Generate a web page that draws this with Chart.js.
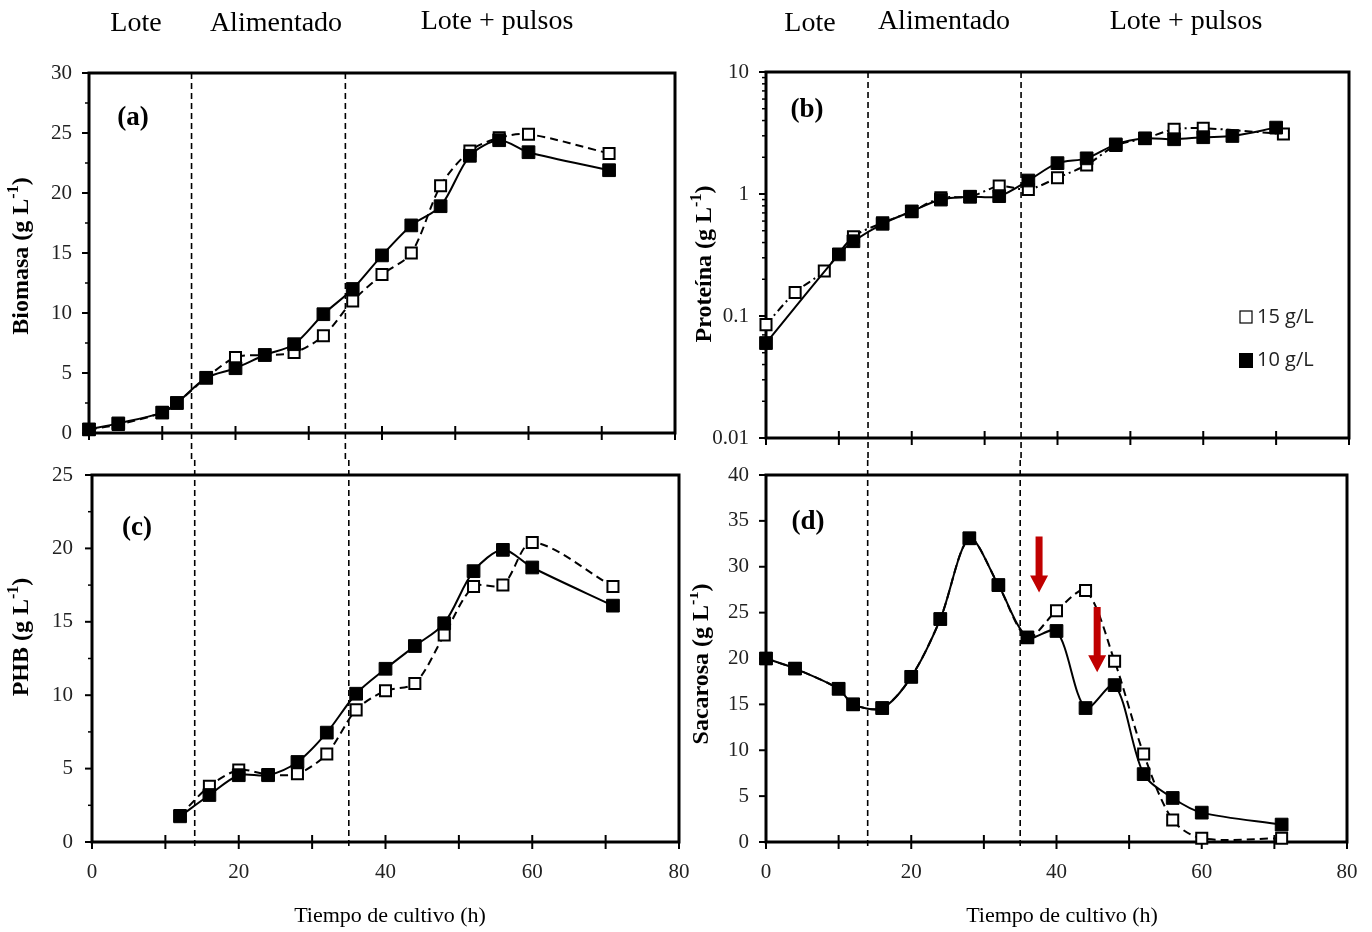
<!DOCTYPE html>
<html>
<head>
<meta charset="utf-8">
<title>Cultivo</title>
<script src="https://cdn.jsdelivr.net/npm/chart.js@4.4.1/dist/chart.umd.min.js"></script>
<style>
  body { margin: 0; background: #fff; }
  #wrap { position: relative; width: 1372px; height: 932px; overflow: hidden; }
  canvas { position: absolute; }
</style>
</head>
<body>
<div id="wrap">
  <canvas id="panelA" width="690" height="460" style="left:0;top:0;width:690px;height:460px"></canvas>
  <canvas id="panelB" width="682" height="460" style="left:690px;top:0;width:682px;height:460px"></canvas>
  <canvas id="panelC" width="690" height="472" style="left:0;top:460px;width:690px;height:472px"></canvas>
  <canvas id="panelD" width="682" height="472" style="left:690px;top:460px;width:682px;height:472px"></canvas>
</div>
<script>
// sampling times (h)
const tiempo = [0, 4, 10, 12, 16, 20, 24, 28, 32, 36, 40, 44, 48, 52, 56, 60, 71];

// (a) biomass, g/L
const biomasa10 = [0.3, 0.8, 1.7, 2.5, 4.6, 5.4, 6.5, 7.4, 9.9, 12.0, 14.8, 17.3, 18.9, 23.1, 24.4, 23.4, 21.9];
const biomasa15 = [0.3, 0.7, 1.7, 2.5, 4.6, 6.3, 6.5, 6.7, 8.1, 11.0, 13.2, 15.0, 20.6, 23.5, 24.6, 24.9, 23.3];

// (b) protein, g/L (log axis)
const tiempoProt10 = [0, 10, 12, 16, 20, 24, 28, 32, 36, 40, 44, 48, 52, 56, 60, 64, 70];
const proteina10 = [0.06, 0.32, 0.41, 0.57, 0.72, 0.9, 0.95, 0.96, 1.29, 1.79, 1.96, 2.55, 2.86, 2.81, 2.92, 2.99, 3.5];
const tiempoProt15 = [0, 4, 8, 12, 16, 20, 24, 28, 32, 36, 40, 44, 48, 52, 56, 60, 71];
const proteina15 = [0.085, 0.156, 0.234, 0.447, 0.58, 0.72, 0.93, 0.95, 1.16, 1.09, 1.36, 1.73, 2.5, 2.85, 3.39, 3.46, 3.1];
const ticksProteina = [0.01, 0.1, 1, 10];

// (c) PHB, g/L
const tiempoPHB = [12, 16, 20, 24, 28, 32, 36, 40, 44, 48, 52, 56, 60, 71];
const phb10 = [1.75, 3.2, 4.55, 4.55, 5.45, 7.45, 10.1, 11.8, 13.35, 14.9, 18.45, 19.9, 18.7, 16.1];
const phb15 = [1.8, 3.8, 4.9, 4.6, 4.65, 6.0, 9.0, 10.3, 10.8, 14.1, 17.4, 17.5, 20.4, 17.4];

// (d) sucrose, g/L
const sacarosa10 = [20.0, 18.9, 16.7, 15.0, 14.6, 18.0, 24.3, 33.1, 28.0, 22.3, 23.0, 14.6, 17.1, 7.4, 4.8, 3.2, 1.9];
const sacarosa15 = [20.0, 18.9, 16.7, 15.0, 14.6, 18.0, 24.3, 33.1, 28.0, 22.3, 25.2, 27.4, 19.7, 9.6, 2.4, 0.4, 0.4];

// sucrose pulses: time and arrow extent on the y axis
const pulsoTiempo = [37.6, 45.6];
const pulsoDesde = [33.3, 25.6];
const pulsoHasta = [27.2, 18.5];

// phase changes (h) and phase names
const cambiosFase = [14, 35];
const fases = ['Lote', 'Alimentado', 'Lote + pulsos'];
const leyenda = ['15 g/L', '10 g/L'];

const SERIF = '"Liberation Serif", "Times New Roman", serif';
const fuenteTicks = { family: SERIF, size: 21 };

const pts = (xs, ys) => xs.map((x, i) => ({ x: x, y: ys[i] }));

function serie10(data, order) {
  return {
    label: leyenda[1], data: data, order: order,
    borderColor: '#000', borderWidth: 2, tension: 0.3, clip: false,
    pointStyle: 'rect', pointRadius: 9, pointBackgroundColor: '#000',
    pointBorderColor: '#000', pointBorderWidth: 1
  };
}

function serie15(data, order, dash) {
  return {
    label: leyenda[0], data: data, order: order,
    borderColor: '#000', borderWidth: 2, borderDash: dash, tension: 0.3, clip: false,
    pointStyle: 'rect', pointRadius: 7.8, pointBackgroundColor: '#fff',
    pointBorderColor: '#000', pointBorderWidth: 2
  };
}

// box, tick marks and phase lines
const marco = {
  id: 'marco',
  beforeDatasetsDraw(chart, args, opts) {
    const { ctx, chartArea: a, scales: { x, y } } = chart;
    ctx.save();
    ctx.strokeStyle = '#000';

    ctx.lineWidth = 1.6;
    ctx.setLineDash([6, 4]);
    cambiosFase.forEach(t => {
      const px = x.getPixelForValue(t);
      ctx.beginPath();
      ctx.moveTo(px, opts.arriba ? a.top : 0);
      ctx.lineTo(px, opts.arriba ? chart.height : a.bottom + 4);
      ctx.stroke();
    });
    ctx.setLineDash([]);

    ctx.lineWidth = 2;
    for (let t = 0; t <= 80; t += 10) {
      const px = x.getPixelForValue(t);
      ctx.beginPath();
      ctx.moveTo(px, a.bottom - 7);
      ctx.lineTo(px, a.bottom + 7);
      ctx.stroke();
    }
    y.ticks.forEach(tk => {
      const py = y.getPixelForValue(tk.value);
      ctx.beginPath();
      ctx.moveTo(a.left - 7, py);
      ctx.lineTo(a.left, py);
      ctx.stroke();
    });
    const menores = [];
    if (opts.log) {
      for (let d = 0.01; d < 10; d *= 10) {
        for (let k = 2; k <= 9; k++) menores.push(d * k);
      }
    } else if (opts.paso) {
      for (let v = opts.paso; v < y.max; v += 2 * opts.paso) menores.push(v);
    }
    ctx.lineWidth = 1.5;
    menores.forEach(v => {
      const py = y.getPixelForValue(v);
      ctx.beginPath();
      ctx.moveTo(a.left - 4, py);
      ctx.lineTo(a.left, py);
      ctx.stroke();
    });

    ctx.lineWidth = 3;
    ctx.strokeRect(a.left, a.top, a.right - a.left, a.bottom - a.top);
    ctx.restore();
  }
};

// red arrows marking the sucrose pulses
const flechas = {
  id: 'flechas',
  afterDatasetsDraw(chart) {
    const { ctx, scales: { x, y } } = chart;
    ctx.save();
    ctx.fillStyle = '#c00000';
    pulsoTiempo.forEach((t, i) => {
      const px = x.getPixelForValue(t);
      const y1 = y.getPixelForValue(pulsoDesde[i]);
      const y2 = y.getPixelForValue(pulsoHasta[i]);
      const hl = 17, sw = 3.5, hw = 9;
      ctx.beginPath();
      ctx.moveTo(px - sw, y1);
      ctx.lineTo(px + sw, y1);
      ctx.lineTo(px + sw, y2 - hl);
      ctx.lineTo(px + hw, y2 - hl);
      ctx.lineTo(px, y2);
      ctx.lineTo(px - hw, y2 - hl);
      ctx.lineTo(px - sw, y2 - hl);
      ctx.closePath();
      ctx.fill();
    });
    ctx.restore();
  }
};

// title with a superscript part, drawn centred at (cx, cy)
function tituloSup(ctx, cx, cy, base, sup, cola, size, rotar) {
  ctx.save();
  ctx.translate(cx, cy);
  if (rotar) ctx.rotate(-Math.PI / 2);
  const fb = 'bold ' + size + 'px ' + SERIF;
  const fs = 'bold ' + Math.round(size * 0.65) + 'px ' + SERIF;
  ctx.font = fb; const w1 = ctx.measureText(base).width; const w3 = ctx.measureText(cola).width;
  ctx.font = fs; const w2 = ctx.measureText(sup).width;
  let x0 = -(w1 + w2 + w3) / 2;
  ctx.fillStyle = '#000';
  ctx.textBaseline = 'middle';
  ctx.textAlign = 'left';
  ctx.font = fb; ctx.fillText(base, x0, 0);
  ctx.font = fs; ctx.fillText(sup, x0 + w1, -size * 0.35);
  ctx.font = fb; ctx.fillText(cola, x0 + w1 + w2, 0);
  ctx.restore();
}

const rotulos = {
  id: 'rotulos',
  afterDraw(chart, args, o) {
    const ctx = chart.ctx;
    ctx.save();
    ctx.fillStyle = '#000';
    ctx.textAlign = 'center';
    ctx.textBaseline = 'middle';
    if (o.fases) {
      ctx.font = '28px ' + SERIF;
      o.fases.forEach((p, i) => ctx.fillText(fases[i], p[0], p[1]));
    }
    ctx.font = 'bold 27px ' + SERIF;
    ctx.fillText(o.letra[0], o.letra[1], o.letra[2]);
    tituloSup(ctx, o.yTitulo[1], o.yTitulo[2], o.yTitulo[0] + ' (g L', '-1', ')', 24, true);
    if (o.xTitulo) {
      ctx.font = '22px ' + SERIF;
      ctx.fillText('Tiempo de cultivo (h)', o.xTitulo[0], o.xTitulo[1]);
    }
    if (o.leyenda) {
      const [lx, ly] = o.leyenda;
      ctx.font = '20px "Open Sans", sans-serif';
      ctx.textAlign = 'left';
      ctx.lineWidth = 1.2;
      ctx.strokeStyle = '#000';
      ctx.fillStyle = '#fff';
      ctx.fillRect(lx - 6, ly - 6, 12, 12);
      ctx.strokeRect(lx - 6, ly - 6, 12, 12);
      ctx.fillStyle = '#000';
      ctx.fillRect(lx - 7, ly + 36, 14, 15);
      ctx.fillStyle = '#222';
      ctx.fillText(leyenda[0], lx + 11, ly);
      ctx.fillText(leyenda[1], lx + 11, ly + 43);
    }
    ctx.restore();
  }
};

function opciones(c) {
  return {
    responsive: false,
    animation: false,
    events: [],
    layout: { padding: c.padding },
    plugins: {
      legend: { display: false },
      tooltip: { enabled: false },
      marco: { arriba: c.arriba, log: c.log, paso: c.paso },
      rotulos: c.rotulos
    },
    scales: {
      x: {
        type: 'linear', min: 0, max: 80,
        // fixed axis box, no extra room for edge labels
        afterFit: s => { s.height = c.altoX; s.paddingLeft = 0; s.paddingRight = 0; },
        grid: { display: false, drawTicks: false },
        border: { display: false },
        ticks: { display: !c.arriba, stepSize: 20, padding: 18, font: fuenteTicks, color: '#222' }
      },
      y: Object.assign({
        afterFit: s => { s.width = c.anchoY; s.paddingTop = 0; s.paddingBottom = 0; },
        grid: { display: false, drawTicks: false },
        border: { display: false },
        ticks: { padding: 17, font: fuenteTicks, color: '#222' }
      }, c.y)
    }
  };
}

new Chart(document.getElementById('panelA'), {
  type: 'line',
  data: { datasets: [serie10(pts(tiempo, biomasa10), 0), serie15(pts(tiempo, biomasa15), 1, [8, 5])] },
  options: opciones({
    padding: { top: 73, right: 15, left: 0, bottom: 0 }, anchoY: 89, altoX: 27, arriba: true, paso: 2.5,
    y: { type: 'linear', min: 0, max: 30, ticks: { stepSize: 5, padding: 17, font: fuenteTicks, color: '#222' } },
    rotulos: { fases: [[136, 24], [276, 24], [497, 22]], letra: ['(a)', 133, 118], yTitulo: ['Biomasa', 22, 256] }
  }),
  plugins: [marco, rotulos]
});

new Chart(document.getElementById('panelB'), {
  type: 'line',
  data: { datasets: [serie10(pts(tiempoProt10, proteina10), 0), serie15(pts(tiempoProt15, proteina15), 1, [8, 4, 2, 4])] },
  options: opciones({
    padding: { top: 72, right: 23, left: 0, bottom: 0 }, anchoY: 76, altoX: 22, arriba: true, log: true,
    y: {
      type: 'logarithmic', min: 0.01, max: 10,
      afterBuildTicks: s => { s.ticks = ticksProteina.map(v => ({ value: v })); },
      ticks: { padding: 17, font: fuenteTicks, color: '#222', callback: v => String(v) }
    },
    rotulos: { fases: [[120, 24], [254, 22], [496, 22]], letra: ['(b)', 117, 110], yTitulo: ['Proteína', 15, 264], leyenda: [556, 317] }
  }),
  plugins: [marco, rotulos]
});

new Chart(document.getElementById('panelC'), {
  type: 'line',
  data: { datasets: [serie10(pts(tiempoPHB, phb10), 0), serie15(pts(tiempoPHB, phb15), 1, [8, 5])] },
  options: opciones({
    padding: { top: 15, right: 11, left: 0, bottom: 0 }, anchoY: 92, altoX: 90, arriba: false, paso: 2.5,
    y: { type: 'linear', min: 0, max: 25, ticks: { stepSize: 5, padding: 19, font: fuenteTicks, color: '#222' } },
    rotulos: { letra: ['(c)', 137, 68], yTitulo: ['PHB', 22, 177], xTitulo: [390, 456] }
  }),
  plugins: [marco, rotulos]
});

new Chart(document.getElementById('panelD'), {
  type: 'line',
  data: { datasets: [serie10(pts(tiempo, sacarosa10), 0), serie15(pts(tiempo, sacarosa15), 1, [8, 5])] },
  options: opciones({
    padding: { top: 15, right: 25, left: 0, bottom: 0 }, anchoY: 76, altoX: 90, arriba: false,
    y: { type: 'linear', min: 0, max: 40, ticks: { stepSize: 5, padding: 17, font: fuenteTicks, color: '#222' } },
    rotulos: { letra: ['(d)', 118, 62], yTitulo: ['Sacarosa', 12, 204], xTitulo: [372, 456] }
  }),
  plugins: [marco, flechas, rotulos]
});
</script>
</body>
</html>
